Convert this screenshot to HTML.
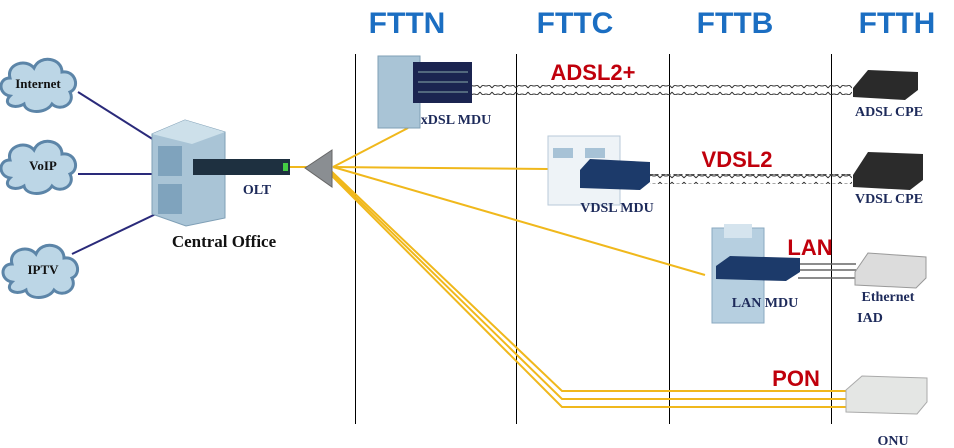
<!DOCTYPE html>
<html><head><meta charset="utf-8"><style>
html,body{margin:0;padding:0;background:#fff;}
svg{display:block;}
.t{font-family:"Liberation Sans",sans-serif;font-weight:bold;}
.s{font-family:"Liberation Serif",serif;font-weight:bold;}
</style></head><body>
<svg width="954" height="448" viewBox="0 0 954 448" xmlns="http://www.w3.org/2000/svg">
<defs>
<pattern id="tw" width="12" height="10" patternUnits="userSpaceOnUse">
<path d="M0,2 Q6,10 12,2 M0,8 Q6,0 12,8" fill="none" stroke="#333" stroke-width="1"/>
</pattern>
<g id="cloud">
<path d="M-30,12 C-42,10 -42,-6 -30,-6 C-34,-20 -14,-26 -6,-16 C0,-30 22,-26 22,-12 C36,-14 40,4 30,8 C36,20 20,28 12,20 C6,30 -14,30 -16,20 C-26,26 -38,20 -30,12 Z" fill="#bcd6e6" stroke="#5c85a8" stroke-width="3"/>
</g>
</defs>
<g class="t" fill="#1b6ec2" font-size="30" text-anchor="middle">
<text x="407" y="33">FTTN</text><text x="575" y="33">FTTC</text>
<text x="735" y="33">FTTB</text><text x="897" y="33">FTTH</text>
</g>
<g stroke="#000" stroke-width="1">
<line x1="355.5" y1="54" x2="355.5" y2="424"/><line x1="516.5" y1="54" x2="516.5" y2="424"/>
<line x1="669.5" y1="54" x2="669.5" y2="424"/><line x1="831.5" y1="54" x2="831.5" y2="424"/>
</g>
<g stroke="#2a2a7a" stroke-width="2">
<line x1="78" y1="92" x2="154" y2="140"/><line x1="78" y1="174" x2="154" y2="174"/><line x1="72" y1="254" x2="160" y2="212"/>
</g>
<use href="#cloud" x="40" y="84"/><use href="#cloud" x="40" y="166"/><use href="#cloud" x="42" y="270"/>
<g class="s" font-size="13" fill="#111" text-anchor="middle">
<text x="38" y="88">Internet</text><text x="43" y="170">VoIP</text><text x="43" y="274">IPTV</text>
</g>
<polygon points="152,134 185,120 225,132 225,218 186,226 152,214" fill="#a9c4d6" stroke="#7f9fb6"/>
<polygon points="152,134 185,120 225,132 192,144" fill="#cde0ea"/>
<rect x="158" y="146" width="24" height="30" fill="#7fa3bd"/><rect x="158" y="184" width="24" height="30" fill="#7fa3bd"/>
<rect x="193" y="159" width="97" height="16" fill="#1e3040"/>
<rect x="283" y="163" width="5" height="8" fill="#4c4"/>
<text class="s" x="257" y="194" font-size="14" fill="#1d2a5a" text-anchor="middle">OLT</text>
<text class="s" x="224" y="247" font-size="17" fill="#111" text-anchor="middle">Central Office</text>
<g stroke="#f0b81c" stroke-width="2" fill="none">
<line x1="290" y1="167" x2="308" y2="167"/>
<line x1="333" y1="167" x2="408" y2="128"/>
<line x1="333" y1="167" x2="548" y2="169"/>
<line x1="333" y1="167" x2="705" y2="275"/>
<polyline points="330,170 562,391 850,391"/>
<polyline points="330,172 562,399 850,399"/>
<polyline points="330,174 562,407 850,407"/>
</g>
<polygon points="305,168 332,150 332,187" fill="#8a8e92" stroke="#666"/>
<rect x="472" y="85" width="380" height="10" fill="url(#tw)"/>
<rect x="650" y="174" width="202" height="10" fill="url(#tw)"/>
<rect x="378" y="56" width="42" height="72" fill="#a9c4d6" stroke="#7f9fb6"/>
<rect x="413" y="62" width="59" height="41" fill="#1b2450"/>
<g stroke="#8aa" stroke-width="1"><line x1="418" y1="72" x2="468" y2="72"/><line x1="418" y1="82" x2="468" y2="82"/><line x1="418" y1="92" x2="468" y2="92"/></g>
<text class="s" x="456" y="124" font-size="14" fill="#1d2a5a" text-anchor="middle">xDSL MDU</text>
<rect x="548" y="136" width="72" height="69" fill="#eef3f7" stroke="#b8cad8"/>
<rect x="553" y="148" width="20" height="10" fill="#a7c2d6"/><rect x="585" y="148" width="20" height="10" fill="#a7c2d6"/>
<polygon points="580,170 590,159 650,162 650,182 640,190 580,188" fill="#1c3a6a"/>
<text class="s" x="617" y="212" font-size="14" fill="#1d2a5a" text-anchor="middle">VDSL MDU</text>
<rect x="712" y="228" width="52" height="95" fill="#b6cfe0" stroke="#8aa9c0"/>
<rect x="724" y="224" width="28" height="14" fill="#d5e4ee"/>
<g stroke="#666" stroke-width="1.5"><line x1="798" y1="264" x2="856" y2="264"/><line x1="798" y1="270" x2="856" y2="270"/><line x1="798" y1="278" x2="856" y2="278"/></g>
<polygon points="716,266 730,256 800,258 800,272 786,281 716,279" fill="#1c3a6a"/>
<text class="s" x="765" y="307" font-size="14" fill="#1d2a5a" text-anchor="middle">LAN MDU</text>
<g class="t" fill="#c0000c" font-size="22" text-anchor="middle">
<text x="593" y="80">ADSL2+</text><text x="737" y="167">VDSL2</text><text x="810" y="255">LAN</text><text x="796" y="386">PON</text>
</g>
<polygon points="853,88 868,70 918,72 918,90 905,100 853,97" fill="#2a2a2a"/>
<text class="s" x="889" y="116" font-size="14" fill="#1d2a5a" text-anchor="middle">ADSL CPE</text>
<polygon points="853,175 868,152 923,154 923,180 910,190 853,187" fill="#2b2b2b"/>
<text class="s" x="889" y="203" font-size="14" fill="#1d2a5a" text-anchor="middle">VDSL CPE</text>
<polygon points="855,272 868,253 926,257 926,278 916,288 855,285" fill="#dcdcdc" stroke="#999"/>
<text class="s" x="888" y="301" font-size="14" fill="#1d2a5a" text-anchor="middle">Ethernet</text>
<text class="s" x="870" y="322" font-size="14" fill="#1d2a5a" text-anchor="middle">IAD</text>
<polygon points="846,390 862,376 927,378 927,402 917,414 846,412" fill="#e4e6e4" stroke="#aaa"/>
<text class="s" x="893" y="445" font-size="14" fill="#1d2a5a" text-anchor="middle">ONU</text>
</svg>
</body></html>
